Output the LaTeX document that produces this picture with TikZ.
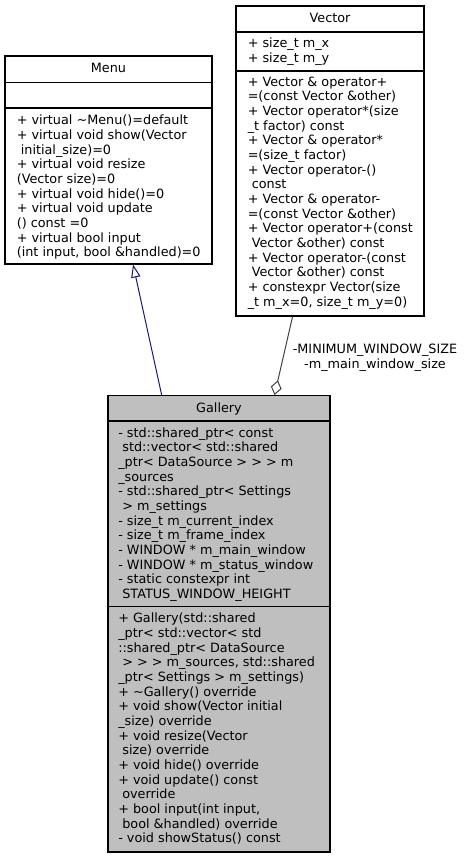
\documentclass[tikz,border=0pt]{standalone}
\usepackage{fontspec}
\setmainfont{DejaVu Sans}
\usetikzlibrary{arrows.meta,fit,calc}
\definecolor{inheritcol}{HTML}{191970}
\definecolor{aggcol}{HTML}{404040}
\definecolor{currentfill}{HTML}{BFBFBF}
\begin{document}
\begin{tikzpicture}[x=0.75pt,y=-0.75pt,
  classbox/.style={draw=black,line width=0.8pt,inner sep=0pt,fill=white},
  classtitle/.style={anchor=base,inner sep=0pt,font=\fontsize{9.6}{11}\selectfont},
  members/.style={anchor=north west,inner sep=0pt,align=left,font=\fontsize{9.6}{11}\selectfont},
  inheritline/.style={draw=inheritcol,line width=0.75pt,-{Triangle[open,length=9.75pt,width=7pt]}},
  aggline/.style={draw=aggcol,line width=0.75pt,-{Diamond[open,length=11.25pt,width=8.25pt]}},
  edgelabel/.style={anchor=north,inner sep=0pt,align=center,font=\fontsize{9.6}{10}\selectfont}]
\useasboundingbox (0,0) rectangle (467,859);
% Menu
\node[classbox,fit={(5,56)(212,264)}] (menu) {};
\draw[line width=0.8pt] (5,82.5) -- (212,82.5);
\draw[line width=0.8pt] (5,108) -- (212,108);
\node[classtitle] (menutitle) at (108.5,73) {Menu};
\node[members] (menuops) at (16.5,114.2) {\strut+ virtual \textasciitilde Menu()=default\\
+ virtual void show(Vector\\
\ initial\_size)=0\\
+ virtual void resize\\
(Vector size)=0\\
+ virtual void hide()=0\\
+ virtual void update\\
() const =0\\
+ virtual bool input\\
(int input, bool \&handled)=0};
% Vector
\node[classbox,fit={(236,6)(424,316)}] (vector) {};
\draw[line width=0.8pt] (236,32) -- (424,32);
\draw[line width=0.8pt] (236,71) -- (424,71);
\node[classtitle] (vectortitle) at (330,23) {Vector};
\node[members] (vectorattr) at (247.5,37.2) {\strut+ size\_t m\_x\\
+ size\_t m\_y};
\node[members] (vectorops) at (247.5,75.7) {\strut+ Vector \& operator+\\
=(const Vector \&other)\\
+ Vector operator*(size\\
\_t factor) const\\
+ Vector \& operator*\\
=(size\_t factor)\\
+ Vector operator-()\\
\ const\\
+ Vector \& operator-\\
=(const Vector \&other)\\
+ Vector operator+(const\\
\ Vector \&other) const\\
+ Vector operator-(const\\
\ Vector \&other) const\\
+ constexpr Vector(size\\
\_t m\_x=0, size\_t m\_y=0)};
% Gallery
\node[classbox,fill=currentfill,fit={(108,395.5)(330,852)}] (gallery) {};
\draw[line width=0.8pt] (108,421) -- (330,421);
\draw[line width=0.8pt] (108,606.5) -- (330,606.5);
\node[classtitle] (gallerytitle) at (219,412) {Gallery};
\node[members] (galleryattr) at (118,426.7) {\strut- std::shared\_ptr< const\\
\ std::vector< std::shared\\
\_ptr< DataSource > > > m\\
\_sources\\
- std::shared\_ptr< Settings\\
\ > m\_settings\\
- size\_t m\_current\_index\\
- size\_t m\_frame\_index\\
- WINDOW * m\_main\_window\\
- WINDOW * m\_status\_window\\
- static constexpr int\\
\ STATUS\_WINDOW\_HEIGHT};
\node[members] (galleryops) at (118,612.4) {\strut+ Gallery(std::shared\\
\_ptr< std::vector< std\\
::shared\_ptr< DataSource\\
\ > > > m\_sources, std::shared\\
\_ptr< Settings > m\_settings)\\
+ \textasciitilde Gallery() override\\
+ void show(Vector initial\\
\_size) override\\
+ void resize(Vector\\
\ size) override\\
+ void hide() override\\
+ void update() const\\
\ override\\
+ bool input(int input,\\
\ bool \&handled) override\\
- void showStatus() const};
% relations
\draw[inheritline] ($(gallery.north west)!0.243!(gallery.north east)$) -- ($(menu.south west)!0.618!(menu.south east)$);
\draw[aggline] ($(vector.south west)!0.302!(vector.south east)$) -- ($(gallery.north west)!0.749!(gallery.north east)$);
\node[edgelabel] (aggname) at (375,343.4) {\strut-MINIMUM\_WINDOW\_SIZE\\-m\_main\_window\_size};
\end{tikzpicture}
\end{document}
